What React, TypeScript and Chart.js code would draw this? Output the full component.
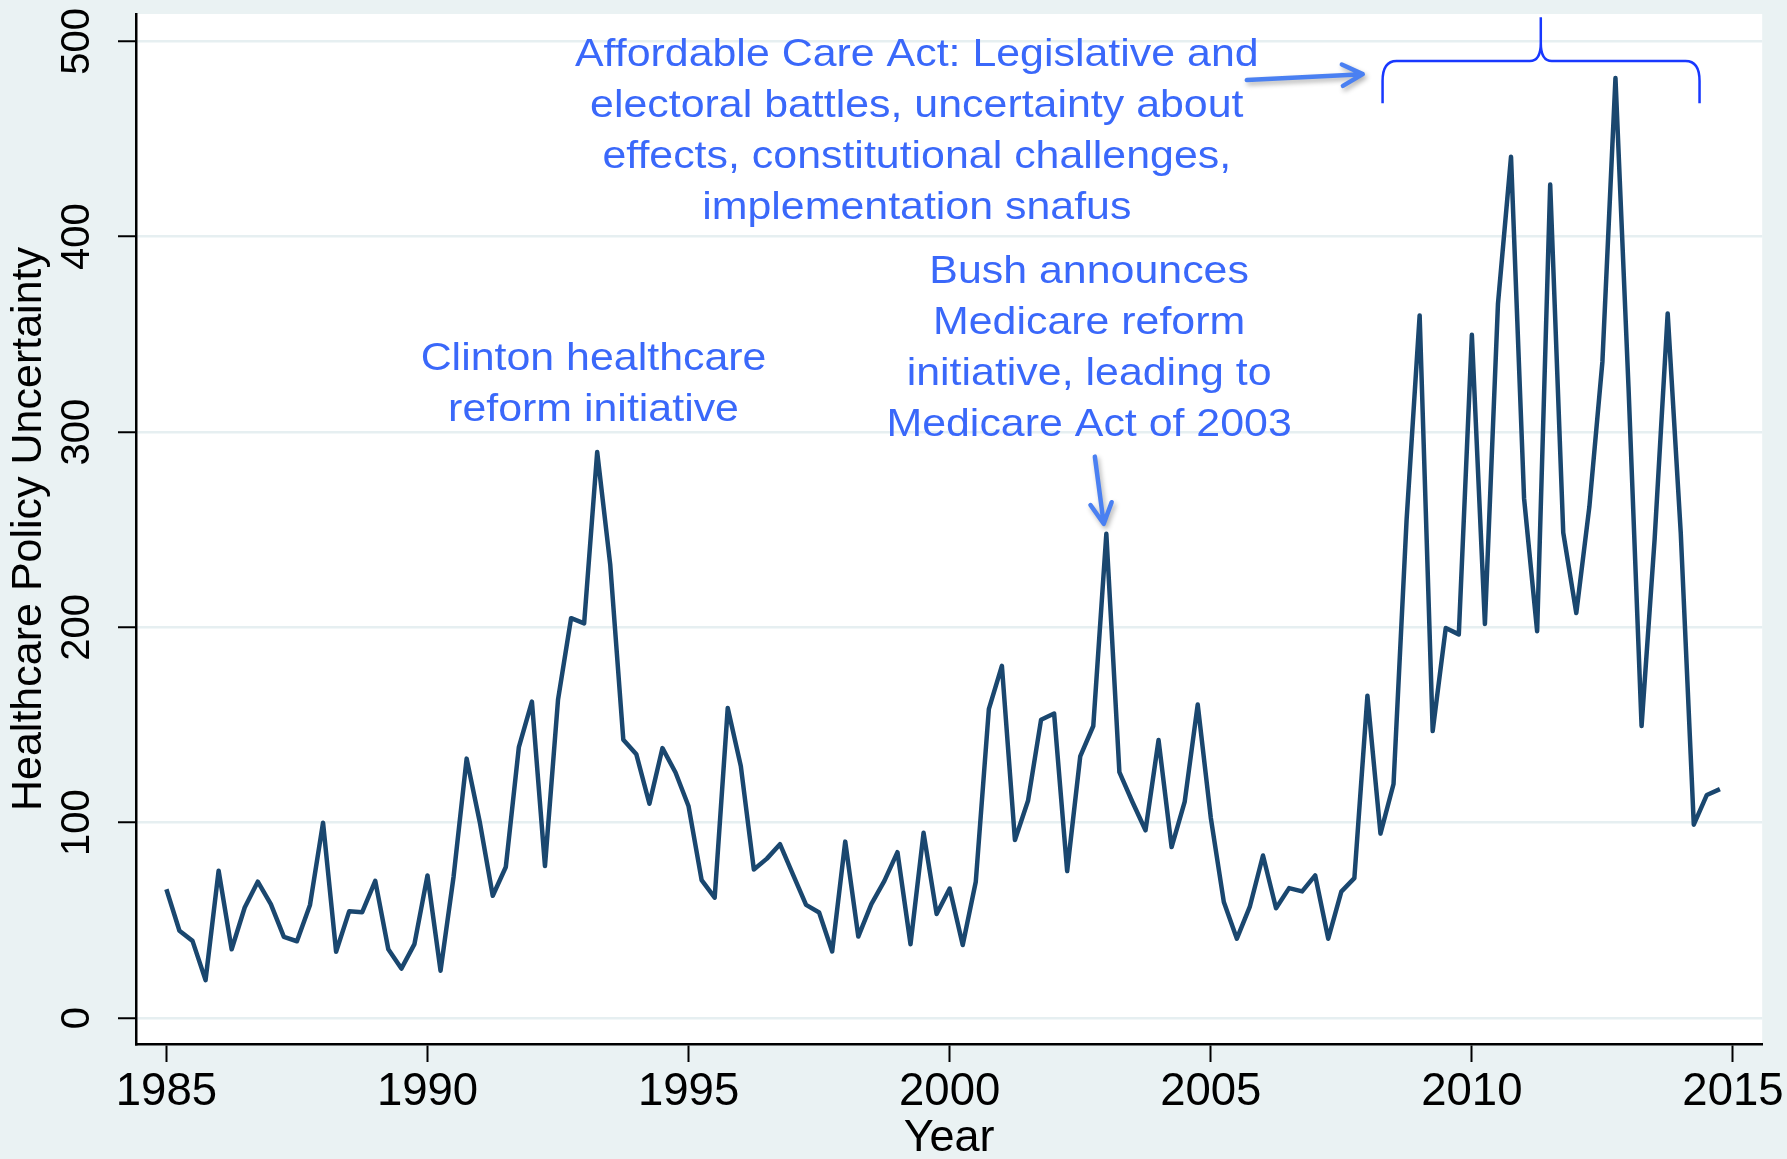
import React, { useEffect, useRef } from 'react';
import { Chart, registerables } from 'chart.js';

Chart.register(...registerables);

// ---------------- data ----------------
const YEARS = [
  1985, 1986, 1987, 1988, 1989, 1990, 1991, 1992, 1993, 1994,
  1995, 1996, 1997, 1998, 1999, 2000, 2001, 2002, 2003, 2004,
  2005, 2006, 2007, 2008, 2009, 2010, 2011, 2012, 2013, 2014,
];
const QUARTER_OFFSETS = [0, 0.25, 0.5, 0.75];

const HPU_1985_1994 = [
  65.9, 44.7, 39.5, 19.4,
  75.4, 35.2, 56.6, 69.8,
  58.3, 41.5, 39.3, 57.9,
  100.0, 33.9, 54.6, 54.2,
  70.2, 35.2, 25.3, 37.8,
  73.0, 24.2, 72.4, 132.8,
  100.5, 62.6, 77.3, 138.7,
  162.0, 77.8, 163.0, 204.7,
  202.0, 289.8, 232.0, 142.5,
  135.0, 109.7, 138.2, 125.7,
];
const HPU_1995_2004 = [
  108.4, 70.6, 61.6, 158.7,
  129.0, 76.0, 81.6, 89.0,
  73.4, 57.9, 54.0, 34.1,
  90.3, 41.7, 58.3, 70.2,
  84.9, 37.8, 94.8, 53.3,
  66.3, 37.4, 69.8, 158.1,
  180.3, 91.1, 111.2, 152.7,
  155.9, 75.2, 133.9, 149.5,
  247.9, 125.9, 110.6, 96.1,
  142.3, 87.5, 110.6, 160.5,
];
const HPU_2005_2014 = [
  102.6, 59.4, 40.6, 57.2,
  83.2, 56.2, 66.5, 64.8,
  73.0, 40.6, 64.7, 71.6,
  165.0, 94.4, 119.8, 255.0,
  359.7, 146.9, 199.7, 196.4,
  349.8, 201.7, 365.7, 440.9,
  266.0, 198.0, 426.7, 248.5,
  207.3, 261.7, 336.0, 481.2,
  322.8, 149.5, 245.2, 360.7,
  248.5, 99.0, 114.2, 117.2,
];

const X_TICKS = [1985, 1990, 1995, 2000, 2005, 2010, 2015];
const Y_TICKS = [0, 100, 200, 300, 400, 500];
const X_TITLE = 'Year';
const Y_TITLE = 'Healthcare Policy Uncertainty';

const CLINTON_LINES = ['Clinton healthcare', 'reform initiative'];
const BUSH_LINES = ['Bush announces', 'Medicare reform', 'initiative, leading to', 'Medicare Act of 2003'];
const ACA_LINES = [
  'Affordable Care Act: Legislative and',
  'electoral battles, uncertainty about',
  'effects, constitutional challenges,',
  'implementation snafus',
];

// annotation anchors in data units (x = year, y = index value of first baseline)
const ANNOTATIONS = [
  { lines: CLINTON_LINES, x: 1993.18, y: 331.5 },
  { lines: BUSH_LINES, x: 2002.67, y: 376.3 },
  { lines: ACA_LINES, x: 1999.37, y: 487.2 },
];
const ARROWS = [
  { x1: 2002.78, y1: 287.4, x2: 2002.95, y2: 253.0 },
  { x1: 2005.69, y1: 480.2, x2: 2007.91, y2: 483.2 },
];
const BRACE = { x0: 2008.29, x1: 2014.36, xPeak: 2011.32, yBar: 490.0, yEnds: 468.3, yPeak: 512.3 };

// ---------------- styles ----------------
const FONT = '"Liberation Sans", Arial, Helvetica, sans-serif';
const BG = '#EAF2F3';
const GRID = '#E6EFF1';
const LINE = '#1A476F';
const TEXT_BLUE = '#3A68FA';
const ARROW_BLUE = '#4A80F2';
const BRACE_BLUE = '#1838FF';

const W = 1787;
const H = 1159;

const decorations = {
  id: 'decorations',
  beforeDraw(chart: any) {
    const { ctx, chartArea } = chart;
    ctx.save();
    ctx.fillStyle = BG;
    ctx.fillRect(0, 0, chart.width, chart.height);
    ctx.fillStyle = '#FFFFFF';
    ctx.fillRect(chartArea.left, chartArea.top, chartArea.right - chartArea.left, chartArea.bottom - chartArea.top);
    ctx.restore();
  },
  afterDraw(chart: any) {
    const { ctx } = chart;
    const xs = chart.scales.x;
    const ys = chart.scales.y;

    // rotated y tick labels
    ctx.save();
    ctx.fillStyle = '#000';
    ctx.font = `40px ${FONT}`;
    ctx.textAlign = 'center';
    ctx.textBaseline = 'middle';
    for (const t of ys.ticks) {
      const py = ys.getPixelForValue(t.value);
      ctx.save();
      ctx.translate(78, py);
      ctx.rotate(-Math.PI / 2);
      ctx.fillText(String(t.value), 0, 0);
      ctx.restore();
    }
    ctx.restore();

    // annotation texts
    ctx.save();
    ctx.fillStyle = TEXT_BLUE;
    ctx.font = `39px ${FONT}`;
    ctx.textAlign = 'center';
    ctx.textBaseline = 'alphabetic';
    for (const a of ANNOTATIONS) {
      const px = xs.getPixelForValue(a.x);
      const py = ys.getPixelForValue(a.y);
      a.lines.forEach((line, i) => {
        ctx.save();
        ctx.translate(px, py + i * 51);
        ctx.scale(1.1, 1);
        ctx.fillText(line, 0, 0);
        ctx.restore();
      });
    }
    ctx.restore();

    // arrows
    for (const ar of ARROWS) {
      const x1 = xs.getPixelForValue(ar.x1);
      const y1 = ys.getPixelForValue(ar.y1);
      const x2 = xs.getPixelForValue(ar.x2);
      const y2 = ys.getPixelForValue(ar.y2);
      const ang = Math.atan2(y2 - y1, x2 - x1);
      const head = 23;
      const spread = Math.PI / 6.5;
      ctx.save();
      ctx.strokeStyle = ARROW_BLUE;
      ctx.lineWidth = 4.5;
      ctx.lineCap = 'round';
      ctx.lineJoin = 'round';
      ctx.shadowColor = 'rgba(0,0,0,0.3)';
      ctx.shadowBlur = 5;
      ctx.shadowOffsetX = 2;
      ctx.shadowOffsetY = 3;
      ctx.beginPath();
      ctx.moveTo(x1, y1);
      ctx.lineTo(x2, y2);
      ctx.moveTo(x2 - head * Math.cos(ang - spread), y2 - head * Math.sin(ang - spread));
      ctx.lineTo(x2, y2);
      ctx.lineTo(x2 - head * Math.cos(ang + spread), y2 - head * Math.sin(ang + spread));
      ctx.stroke();
      ctx.restore();
    }

    // brace
    {
      const xl = xs.getPixelForValue(BRACE.x0);
      const xr = xs.getPixelForValue(BRACE.x1);
      const xp = xs.getPixelForValue(BRACE.xPeak);
      const yb = ys.getPixelForValue(BRACE.yBar);
      const ye = ys.getPixelForValue(BRACE.yEnds);
      const yk = ys.getPixelForValue(BRACE.yPeak);
      ctx.save();
      ctx.strokeStyle = BRACE_BLUE;
      ctx.lineWidth = 2.5;
      ctx.lineJoin = 'round';
      ctx.beginPath();
      ctx.moveTo(xl, ye);
      ctx.lineTo(xl, yb + 20);
      ctx.quadraticCurveTo(xl, yb, xl + 14, yb);
      ctx.lineTo(xp - 11, yb);
      ctx.quadraticCurveTo(xp, yb, xp, yb - 18);
      ctx.lineTo(xp, yk);
      ctx.moveTo(xp, yb - 18);
      ctx.quadraticCurveTo(xp, yb, xp + 11, yb);
      ctx.lineTo(xr - 14, yb);
      ctx.quadraticCurveTo(xr, yb, xr, yb + 20);
      ctx.lineTo(xr, ye);
      ctx.stroke();
      ctx.restore();
    }
  },
};

export default function App() {
  const canvasRef = useRef<HTMLCanvasElement | null>(null);

  useEffect(() => {
    const canvas = canvasRef.current;
    if (!canvas) return;
    const hpu = [...HPU_1985_1994, ...HPU_1995_2004, ...HPU_2005_2014];
    const points = YEARS.flatMap((yr, i) =>
      QUARTER_OFFSETS.map((q, j) => ({ x: yr + q, y: hpu[i * 4 + j] }))
    );

    const chart = new Chart(canvas, {
      type: 'line',
      data: {
        datasets: [
          {
            data: points,
            borderColor: LINE,
            borderWidth: 4.5,
            pointRadius: 0,
            tension: 0,
            borderJoinStyle: 'round',
            fill: false,
          },
        ],
      },
      options: {
        responsive: false,
        animation: false,
        devicePixelRatio: 1,
        layout: { padding: { left: 0, right: 24, top: 14, bottom: 0 } },
        plugins: {
          legend: { display: false },
          tooltip: { enabled: false },
        },
        scales: {
          x: {
            type: 'linear',
            min: 1984.418,
            max: 2015.56,
            afterBuildTicks: (axis: any) => {
              axis.ticks = X_TICKS.map((v) => ({ value: v }));
            },
            afterFit: (axis: any) => {
              axis.height = 115;
            },
            ticks: {
              autoSkip: false,
              maxRotation: 0,
              minRotation: 0,
              padding: 3,
              color: '#000',
              font: { family: FONT, size: 45.5 },
              callback: (v: any) => String(v),
            },
            grid: {
              display: true,
              drawOnChartArea: false,
              drawTicks: true,
              tickLength: 18,
              tickColor: '#000',
              tickWidth: 2,
            },
            border: { display: true, color: '#000', width: 2.5 },
            title: {
              display: true,
              text: X_TITLE,
              color: '#000',
              font: { family: FONT, size: 45, lineHeight: 1 },
              padding: { top: 0, bottom: -2 },
            },
          },
          y: {
            type: 'linear',
            min: -13.3,
            max: 514,
            afterBuildTicks: (axis: any) => {
              axis.ticks = Y_TICKS.map((v) => ({ value: v }));
            },
            afterFit: (axis: any) => {
              axis.width = 136;
            },
            ticks: { display: false },
            grid: {
              display: true,
              drawOnChartArea: true,
              color: GRID,
              lineWidth: 2.5,
              drawTicks: true,
              tickLength: 18,
              tickColor: '#000',
              tickWidth: 2,
            },
            border: { display: true, color: '#000', width: 2.5 },
            title: {
              display: true,
              text: Y_TITLE,
              color: '#000',
              font: { family: FONT, size: 43, lineHeight: 1.2 },
              padding: { top: 3, bottom: 0 },
            },
          },
        },
      },
      plugins: [decorations],
    });

    return () => chart.destroy();
  }, []);

  return (
    <div style={{ position: 'fixed', left: 0, top: 0, width: W, height: H, background: BG }}>
      <canvas ref={canvasRef} width={W} height={H} style={{ display: 'block' }} />
    </div>
  );
}
